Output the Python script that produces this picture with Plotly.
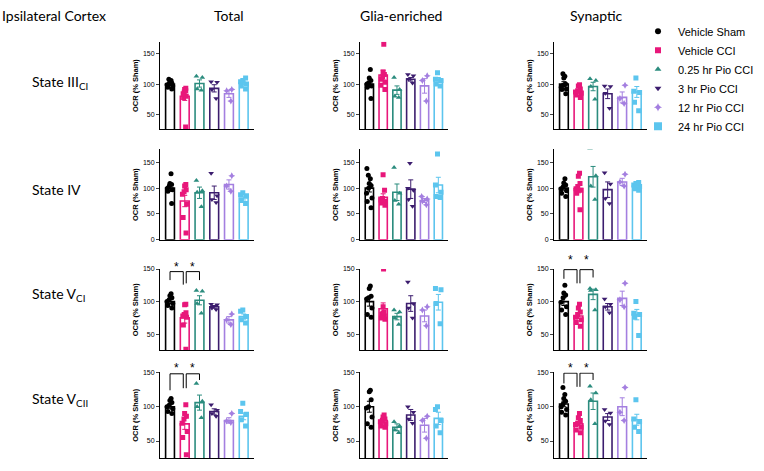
import plotly.graph_objects as go
from plotly.subplots import make_subplots

groups = ["Vehicle Sham", "Vehicle CCI", "0.25 hr Pio CCI", "3 hr Pio CCI", "12 hr Pio CCI", "24 hr Pio CCI"]
colors = ["#000000", "#E8177A", "#2B8C7E", "#3C1D6E", "#A47FE0", "#5CC5EE"]
symbols = ["circle", "square", "triangle-up", "triangle-down", "star-diamond", "square"]
columns = ["Total", "Glia-enriched", "Synaptic"]
rows = ["State III<sub>CI</sub>", "State IV", "State V<sub>CI</sub>", "State V<sub>CII</sub>"]

# ---- State III_CI ----
iii_total_mean = [100, 80, 101, 93, 84, 102]
iii_total_sem = [2, 7, 6, 6, 6, 3]
iii_total_pts = [[108, 106, 104, 102, 100, 99, 97, 95, 92], [93, 91, 89, 87, 84, 80, 78, 29],
                 [113, 111, 92, 90], [104, 103, 91, 76], [91, 89, 72], [110, 106, 100, 97, 92, 104]]
iii_glia_mean = [100, 115, 90, 108, 97, 107]
iii_glia_sem = [5, 8, 7, 3, 12, 4]
iii_glia_pts = [[124, 110, 106, 102, 100, 97, 95, 76], [166, 120, 116, 112, 108, 103, 98, 91],
                [111, 91, 80, 78], [116, 114, 108, 102], [114, 106, 72], [119, 108, 106, 100, 97]]
iii_syn_mean = [100, 88, 96, 84, 78, 87]
iii_syn_sem = [4, 2.5, 7, 8, 9, 9]
iii_syn_pts = [[117, 113, 110, 100, 98, 95, 92, 84, 91], [99, 97, 92, 89, 87, 85, 82, 78],
               [109, 106, 96, 75], [97, 96, 85, 60], [98, 76, 68], [110, 88, 86, 70, 56]]

# ---- State IV ----
iv_total_mean = [100, 75, 91, 91, 107, 81]
iv_total_sem = [6, 11, 11, 13, 9, 4]
iv_total_pts = [[128, 109, 107, 104, 100, 97, 94, 70], [107, 104, 97, 93, 88, 69, 43, 13],
                [115, 95, 92, 64], [129, 85, 78, 72], [124, 104, 94], [91, 87, 85, 76, 70]]
iv_glia_mean = [100, 82, 92, 98, 76, 106]
iv_glia_sem = [7.5, 7, 16, 18, 4, 15]
iv_glia_pts = [[138, 125, 118, 109, 105, 100, 90, 81, 74, 62], [126, 96, 80, 77, 74, 71, 67],
               [140, 90, 76, 69], [148, 100, 96, 78, 65], [84, 79, 75, 68], [166, 106, 92, 84, 82]]
iv_syn_mean = [100, 99, 122, 97, 112, 104]
iv_syn_sem = [4, 8, 20, 15, 7, 3]
iv_syn_pts = [[118, 110, 106, 102, 99, 95, 90, 84], [129, 123, 109, 103, 99, 96, 90, 58],
              [177, 124, 104, 78], [130, 108, 80, 70], [127, 112, 104], [111, 109, 106, 103, 99, 96]]

# ---- State V_CI ----
vci_total_mean = [100, 75, 102, 92, 72, 77]
vci_total_sem = [3, 8, 7, 2, 5, 4]
vci_total_pts = [[112, 109, 106, 103, 100, 97, 94, 90], [96, 95, 83, 80, 78, 76, 64, 27],
                 [117, 116, 97, 82], [96, 95, 90, 88], [81, 72, 65], [87, 85, 77, 72, 67]]
vci_glia_mean = [100, 89, 77, 97, 78, 99]
vci_glia_sem = [7, 9, 5, 12, 9, 12]
vci_glia_pts = [[124, 120, 108, 106, 104, 90, 80, 76], [150, 92, 84, 82, 80, 78, 75, 73],
                [87, 84, 75, 65], [130, 97, 90, 75], [92, 87, 63], [120, 118, 97, 66]]
vci_syn_mean = [100, 78, 111, 92, 105, 80]
vci_syn_sem = [6, 4, 8, 5, 11, 8]
vci_syn_pts = [[125, 113, 110, 106, 99, 92, 87, 80], [96, 90, 84, 80, 76, 72, 68, 62],
               [120, 118, 117, 87], [104, 96, 92, 83], [128, 103, 92], [100, 82, 80, 76, 48]]

# ---- State V_CII ----
vcii_total_mean = [100, 75, 106, 93, 80, 86]
vcii_total_sem = [3, 8, 11, 4, 4, 5]
vcii_total_pts = [[112, 109, 106, 102, 100, 97, 93, 90], [103, 90, 86, 82, 76, 64, 55, 30],
                  [134, 108, 100, 84], [103, 95, 90, 86], [90, 79, 77], [105, 93, 89, 81, 72]]
vcii_glia_mean = [100, 80, 70, 88, 73, 83]
vcii_glia_sem = [8, 4, 5, 8, 10, 9]
vcii_glia_pts = [[124, 122, 110, 100, 98, 85, 75, 70], [88, 85, 82, 80, 78, 75, 72, 70],
                 [78, 72, 66, 62], [100, 92, 82, 76], [86, 80, 54], [100, 96, 80, 72, 62]]
vcii_syn_mean = [104, 75, 108, 85, 100, 81]
vcii_syn_sem = [4, 3, 12, 5, 13, 8]
vcii_syn_pts = [[128, 118, 112, 108, 104, 100, 96, 92, 88], [90, 84, 80, 76, 74, 70, 66, 62],
                [130, 120, 110, 75], [96, 91, 79, 74], [128, 92, 80], [110, 82, 78, 70, 64]]

panels = [
    [(iii_total_mean, iii_total_sem, iii_total_pts), (iii_glia_mean, iii_glia_sem, iii_glia_pts), (iii_syn_mean, iii_syn_sem, iii_syn_pts)],
    [(iv_total_mean, iv_total_sem, iv_total_pts), (iv_glia_mean, iv_glia_sem, iv_glia_pts), (iv_syn_mean, iv_syn_sem, iv_syn_pts)],
    [(vci_total_mean, vci_total_sem, vci_total_pts), (vci_glia_mean, vci_glia_sem, vci_glia_pts), (vci_syn_mean, vci_syn_sem, vci_syn_pts)],
    [(vcii_total_mean, vcii_total_sem, vcii_total_pts), (vcii_glia_mean, vcii_glia_sem, vcii_glia_pts), (vcii_syn_mean, vcii_syn_sem, vcii_syn_pts)],
]

row_ranges = [[25, 170], [0, 175], [25, 150], [25, 150]]
row_ticks = [[50, 100, 150], [0, 50, 100, 150], [50, 100, 150], [50, 100, 150]]

# ---- layout geometry (pixels) ----
W, H = 764, 471
col_px = [(160, 254), (360, 448), (554, 647)]
row_px = [(38.4, 127.3), (147.6, 239.3), (269, 351.7), (374, 461)]

fig = make_subplots(rows=4, cols=3)

for r in range(4):
    for c in range(3):
        means, sems, pts = panels[r][c]
        for i in range(6):
            fig.add_trace(go.Bar(
                x=[i], y=[means[i]], width=0.6,
                marker=dict(color="white", line=dict(color=colors[i], width=1.6)),
                error_y=dict(type="data", array=[sems[i]], color=colors[i], thickness=1, width=2.5),
                showlegend=False, hoverinfo="skip"), row=r + 1, col=c + 1)
        for i in range(6):
            fig.add_trace(go.Box(
                x=[i] * len(pts[i]), y=pts[i], boxpoints="all", jitter=0.9, pointpos=0,
                width=0.55, fillcolor="rgba(0,0,0,0)", line=dict(width=0, color=colors[i]),
                marker=dict(symbol=symbols[i], size=5, color=colors[i]),
                showlegend=False), row=r + 1, col=c + 1)

for i in range(6):
    fig.add_trace(go.Scatter(x=[None], y=[None], mode="markers", name=groups[i],
                             marker=dict(symbol=symbols[i], size=6 if i < 5 else 8, color=colors[i])),
                  row=1, col=1)

axis_common = dict(showline=True, linecolor="black", linewidth=1, showgrid=False, zeroline=False)
for r in range(4):
    for c in range(3):
        k = r * 3 + c + 1
        x0, x1 = col_px[c]
        ytop, ybot = row_px[r]
        fig.update_layout(**{
            f"xaxis{k}": dict(domain=[x0 / W, x1 / W], range=[-0.68, 5.7], showticklabels=False,
                              ticks="", fixedrange=True, **axis_common),
            f"yaxis{k}": dict(domain=[1 - ybot / H, 1 - ytop / H], range=row_ranges[r],
                              tickvals=row_ticks[r], ticks="outside", ticklen=3, tickwidth=1,
                              tickfont=dict(size=7, family="Liberation Sans", color="black"),
                              title=dict(text="<b>OCR (% Sham)</b>", standoff=3,
                                         font=dict(size=7.5, family="Liberation Sans", color="black")),
                              fixedrange=True, **axis_common),
        })

annotations = []
title_font = dict(family="Lato", size=14, color="black")
annotations.append(dict(text="Ipsilateral Cortex", x=0 / W, y=1 - 12 / H, xref="paper", yref="paper",
                        xanchor="left", yanchor="middle", showarrow=False, font=title_font))
for c, name in enumerate(columns):
    cx = [229, 401, 596][c]
    annotations.append(dict(text=name, x=cx / W, y=1 - 12 / H, xref="paper", yref="paper",
                            xanchor="center", yanchor="middle", showarrow=False, font=title_font))
for r, name in enumerate(rows):
    cy = [80, 188, 295, 401][r]
    annotations.append(dict(text=name, x=30 / W, y=1 - cy / H, xref="paper", yref="paper",
                            xanchor="left", yanchor="middle", showarrow=False, font=title_font))

# significance brackets: (axis index, horizontal level, leg ends, asterisk shift in px)
brackets = [
    (7, 146, [133, 126, 128, 133], 2),
    (9, 149, [135, 128, 128, 137], 9),
    (10, 148, [124, 127, 127, 139], 4),
    (12, 149, [134, 129, 129, 139], 4),
]
shapes = []
for k, h, legs, shift in brackets:
    xr, yr = f"x{k}", f"y{k}"
    for (a, b), (la, lb) in zip([(0, 0.9), (1.1, 2)], [(legs[0], legs[1]), (legs[2], legs[3])]):
        shapes.append(dict(type="path", xref=xr, yref=yr,
                           path=f"M {a} {la} L {a} {h} L {b} {h} L {b} {lb}",
                           line=dict(color="black", width=1)))
        annotations.append(dict(text="*", x=(a + b) / 2, y=150, xref=xr, yref=yr, showarrow=False,
                                yanchor="middle", yshift=shift,
                                font=dict(size=12, family="Liberation Sans", color="black")))

fig.update_layout(
    width=W, height=H, margin=dict(l=0, r=0, t=0, b=0),
    paper_bgcolor="white", plot_bgcolor="white",
    barmode="overlay", boxmode="overlay",
    annotations=annotations, shapes=shapes,
    legend=dict(x=638 / W, y=1 - 13 / H, xanchor="left", yanchor="top",
                font=dict(family="Liberation Sans", size=11, color="black"),
                bgcolor="rgba(0,0,0,0)"),
)

fig.write_html("out.html", config={"displayModeBar": False},
               post_script="document.body.style.margin='0';")
